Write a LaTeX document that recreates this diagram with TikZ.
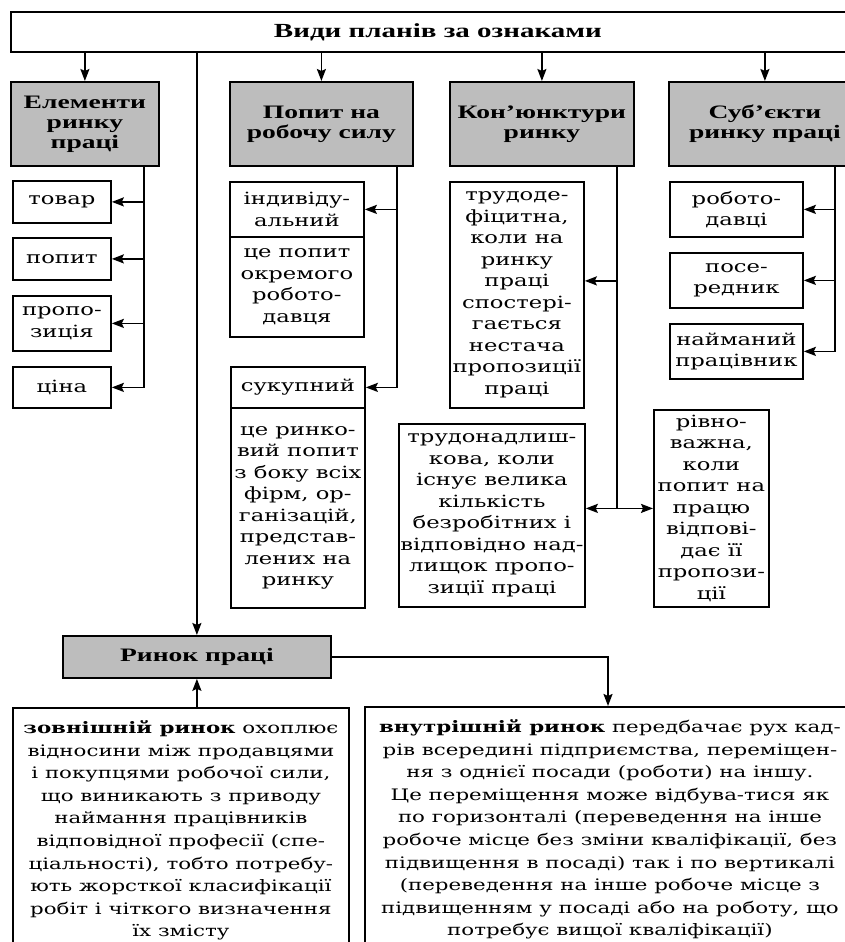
\documentclass[tikz,border=0pt]{standalone}
\usepackage{fontspec}
\setmainfont{DejaVu Serif}[FakeStretch=1.35]
\newfontfamily\headfont{Liberation Serif}[FakeStretch=1.45]
\usepackage{tikz}
\usetikzlibrary{positioning, arrows.meta, calc}
\definecolor{headgray}{HTML}{BDBDBD}

\begin{document}
\begin{tikzpicture}[x=1pt, y=-1pt, line width=1.8pt,
  headbox/.style={draw, fill=headgray, inner sep=0pt, anchor=north west, align=center,
    font=\headfont\bfseries\fontsize{19}{20}\selectfont},
  itembox/.style={draw, fill=white, inner sep=0pt, anchor=north west, align=center,
    font=\fontsize{16.8}{21.5}\selectfont},
  textbox/.style={draw, fill=white, inner xsep=2pt, inner ysep=1pt, anchor=north west, align=center,
    font=\fontsize{15.8}{22.6}\selectfont},
  arr/.style={-{Stealth[length=12pt, width=9pt, inset=2pt]}}]
  \useasboundingbox (0,0) rectangle (845,942);

  % top row
  \node[draw, fill=white, anchor=north west, minimum width=854, minimum height=40,
        font=\headfont\bfseries\fontsize{20}{22}\selectfont] (top) at (10,11) {Види планів за ознаками};
  \node[headbox, minimum width=148, minimum height=84] (elem) at (10,81) {Елементи\\ринку\\праці};
  \node[headbox, minimum width=183, minimum height=84] (demand) at (229,81) {Попит на\\робочу силу};
  \node[headbox, minimum width=184, minimum height=84] (conj) at (449,81) {Кон’юнктури\\ринку};
  \node[headbox, minimum width=192, minimum height=84] (subj) at (668,81) {Суб’єкти\\ринку праці};
  \foreach \n in {elem, demand, conj, subj}
    \draw[arr] (top.south -| \n.north) -- (\n.north);

  % elements
  \node[itembox, minimum width=98, minimum height=42] (goods) at (12,180) {товар};
  \node[itembox, minimum width=98, minimum height=42] (want) at (12,237) {попит};
  \node[itembox, minimum width=98, minimum height=55] (offer) at (12,295) {пропо-\\зиція};
  \node[itembox, minimum width=98, minimum height=41] (price) at (12,366) {ціна};
  \coordinate (ebus) at (144,0);
  \draw[arr] (ebus |- elem.south) |- (price.east);
  \foreach \n in {goods, want, offer}
    \draw[arr] (ebus |- \n.east) -- (\n.east);

  % demand
  \node[itembox, minimum width=134, minimum height=55] (indiv) at (229,181) {індивіду-\\альний};
  \node[itembox, minimum width=134, minimum height=100] (indivtxt) at (229,236)
    {це попит\\окремого\\робото-\\давця};
  \node[itembox, minimum width=134, minimum height=41] (total) at (230,366) {сукупний};
  \node[itembox, minimum width=134, minimum height=200] (totaltxt) at (230,407)
    {це ринко-\\вий попит\\з боку всіх\\фірм, ор-\\ганізацій,\\представ-\\лених на\\ринку};
  \coordinate (dbus) at (397,0);
  \draw[arr] (dbus |- demand.south) |- (total.east);
  \draw[arr] (dbus |- indiv.east) -- (indiv.east);

  % conjuncture
  \node[itembox, minimum width=134, minimum height=226] (deficit) at (449,181)
    {трудоде-\\фіцитна,\\коли на\\ринку\\праці\\спостері-\\гається\\нестача\\пропозиції\\праці};
  \node[itembox, minimum width=186, minimum height=183] (surplus) at (398,423)
    {трудонадлиш-\\кова, коли\\існує велика\\кількість\\безробітних і\\відповідно над-\\лищок пропо-\\зиції праці};
  \node[itembox, minimum width=115, minimum height=197] (balance) at (653,409)
    {рівно-\\важна,\\коли\\попит на\\працю\\відпові-\\дає її\\пропози-\\ції};
  \coordinate (cbus) at (617,0);
  \draw (cbus |- conj.south) -- (cbus |- balance.west);
  \draw[arr] (cbus |- deficit.east) ++(0,-14) -- ([yshift=14pt]deficit.east);
  \draw[arr] (cbus |- balance.west) -- (balance.west);
  \draw[arr] (cbus |- balance.west) -- (surplus.east |- balance.west);

  % subjects
  \node[itembox, minimum width=133, minimum height=55] (employer) at (669,181) {робото-\\давці};
  \node[itembox, minimum width=133, minimum height=55] (broker) at (669,252) {посе-\\редник};
  \node[itembox, minimum width=133, minimum height=55] (hired) at (669,323) {найманий\\працівник};
  \coordinate (sbus) at (835,0);
  \draw[arr] (sbus |- subj.south) |- (hired.east);
  \foreach \n in {employer, broker}
    \draw[arr] (sbus |- \n.east) -- (\n.east);

  % labour market
  \node[headbox, minimum width=268, minimum height=42] (market) at (62,635) {Ринок праці};
  \draw[arr] (top.south -| market.north) -- (market.north);
  \node[textbox, minimum width=336, minimum height=245] (outer) at (12,707)
    {\textbf{зовнішній ринок} охоплює\\відносини між продавцями\\і покупцями робочої сили,\\що виникають з приводу\\наймання працівників\\відповідної професії (спе-\\ціальності), тобто потребу-\\ють жорсткої класифікації\\робіт і чіткого визначення\\їх змісту};
  \node[textbox, minimum width=490, minimum height=245] (inner) at (364,706)
    {\textbf{внутрішній ринок} передбачає рух кад-\\рів всередині підприємства, переміщен-\\ня з однієї посади (роботи) на іншу.\\Це переміщення може відбува-тися як\\по горизонталі (переведення на інше\\робоче місце без зміни кваліфікації, без\\підвищення в посаді) так і по вертикалі\\(переведення на інше робоче місце з\\підвищенням у посаді або на роботу, що\\потребує вищої кваліфікації)};
  \draw[arr] (outer.north -| market.south) -- (market.south);
  \coordinate (mbus) at (608,0);
  \draw[arr] (market.east) -| (mbus |- inner.north);
\end{tikzpicture}
\end{document}
